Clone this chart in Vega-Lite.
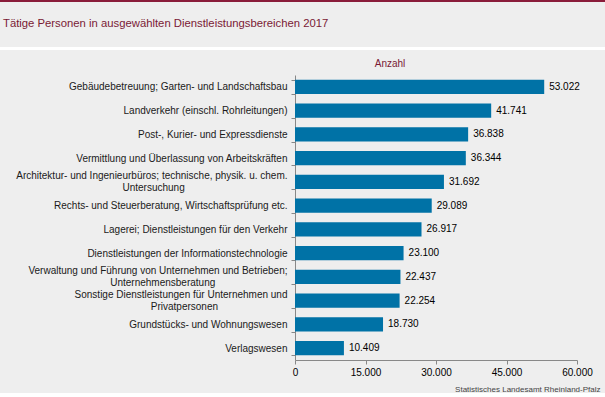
{
  "$schema": "https://vega.github.io/schema/vega-lite/v6.json",
  "background": "#eeeeee",
  "padding": 0,
  "spacing": 9,
  "config": {
    "view": {"stroke": null},
    "font": "Liberation Sans",
    "locale": {"number": {"decimal": ",", "thousands": ".", "grouping": [3], "currency": ["", " €"]}}
  },
  "datasets": {
    "d": [
      {"k": "Gebäudebetreuung; Garten- und Landschaftsbau", "v": 53022},
      {"k": "Landverkehr (einschl. Rohrleitungen)", "v": 41741},
      {"k": "Post-, Kurier- und Expressdienste", "v": 36838},
      {"k": "Vermittlung und Überlassung von Arbeitskräften", "v": 36344},
      {"k": "Architektur- und Ingenieurbüros; technische, physik. u. chem. Untersuchung", "v": 31692},
      {"k": "Rechts- und Steuerberatung, Wirtschaftsprüfung etc.", "v": 29089},
      {"k": "Lagerei; Dienstleistungen für den Verkehr", "v": 26917},
      {"k": "Dienstleistungen der Informationstechnologie", "v": 23100},
      {"k": "Verwaltung und Führung von Unternehmen und Betrieben; Unternehmensberatung", "v": 22437},
      {"k": "Sonstige Dienstleistungen für Unternehmen und Privatpersonen", "v": 22254},
      {"k": "Grundstücks- und Wohnungswesen", "v": 18730},
      {"k": "Verlagswesen", "v": 10409}
    ]
  },
  "vconcat": [
    {
      "width": 310,
      "height": 50,
      "data": {"values": [{"t": "Tätige Personen in ausgewählten Dienstleistungsbereichen 2017"}]},
      "layer": [
        {
          "mark": {"type": "rect", "color": "#8a1c3a"},
          "encoding": {
            "x": {"datum": -295, "type": "quantitative", "scale": {"domain": [0, 310], "nice": false, "zero": false}, "axis": null},
            "x2": {"datum": 310},
            "y": {"datum": 48, "type": "quantitative", "scale": {"domain": [0, 50], "nice": false, "zero": false}, "axis": null},
            "y2": {"datum": 50}
          }
        },
        {
          "mark": {"type": "rect", "color": "#ffffff"},
          "encoding": {
            "x": {"datum": -295, "type": "quantitative"},
            "x2": {"datum": 310},
            "y": {"datum": 0, "type": "quantitative"},
            "y2": {"datum": 3}
          }
        },
        {
          "mark": {"type": "text", "align": "left", "baseline": "middle", "fontSize": 11.3, "color": "#7a1a35"},
          "encoding": {
            "x": {"datum": -292, "type": "quantitative"},
            "y": {"datum": 26, "type": "quantitative"},
            "text": {"field": "t"}
          }
        }
      ]
    },
    {
      "width": 282,
      "height": 285,
      "title": {"text": "Anzahl", "fontSize": 10, "fontWeight": "normal", "color": "#7a1a35", "anchor": "middle", "frame": "group", "dx": -46, "offset": 1},
      "data": {"name": "d"},
      "layer": [
        {
          "mark": {"type": "bar", "color": "#0072a6"},
          "encoding": {
            "y": {
              "field": "k", "type": "nominal", "sort": null,
              "scale": {"paddingInner": 0.4, "paddingOuter": 0.2},
              "axis": {
                "title": null,
                "domainColor": "#888888",
                "tickColor": "#888888",
                "tickBand": "extent",
                "tickSize": 4,
                "labelPadding": 4,
                "labelFontSize": 10,
                "labelColor": "#1a1a1a",
                "labelLimit": 400,
                "labelLineHeight": 12,
                "minExtent": 295,
                "maxExtent": 295,
                "labelOffset": {"condition": {"test": "indexof(datum.label, 'chem.') >= 0 || indexof(datum.label, 'Betrieben;') >= 0 || indexof(datum.label, 'Privatpersonen') >= 0", "value": -6}, "value": 0},
                "labelExpr": "indexof(datum.label, 'chem. ') >= 0 ? ['Architektur- und Ingenieurbüros; technische, physik. u. chem.', pad('Untersuchung', 49, '\u00a0') + '\u200b'] : indexof(datum.label, 'Betrieben; ') >= 0 ? ['Verwaltung und Führung von Unternehmen und Betrieben;', pad('Unternehmensberatung', 46, '\u00a0') + '\u200b'] : indexof(datum.label, 'Privatpersonen') >= 0 ? ['Sonstige Dienstleistungen für Unternehmen und', pad('Privatpersonen', 39, '\u00a0') + '\u200b'] : datum.label"
              }
            },
            "x": {
              "field": "v", "type": "quantitative",
              "scale": {"domain": [0, 60000], "nice": false},
              "axis": {
                "values": [0, 15000, 30000, 45000, 60000],
                "format": ",.0f",
                "grid": false,
                "labelFlush": false,
                "domainColor": "#888888",
                "tickColor": "#888888",
                "tickSize": 4,
                "labelPadding": 3,
                "labelFontSize": 10,
                "labelColor": "#000000",
                "title": "Statistisches Landesamt Rheinland-Pfalz",
                "titleFontSize": 8,
                "titleFontWeight": "normal",
                "titleColor": "#444444",
                "titleAnchor": "end",
                "titleAlign": "right",
                "titleX": 305,
                "titleY": 31,
                "titleBaseline": "alphabetic"
              }
            }
          }
        },
        {
          "mark": {"type": "text", "align": "left", "baseline": "middle", "dx": 5, "fontSize": 10, "color": "#000000"},
          "encoding": {
            "y": {"field": "k", "type": "nominal", "sort": null},
            "x": {"field": "v", "type": "quantitative"},
            "text": {"field": "v", "type": "quantitative", "format": ",.0f"}
          }
        }
      ]
    }
  ]
}
